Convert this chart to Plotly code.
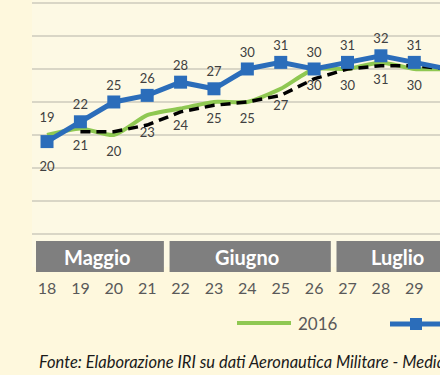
import plotly.graph_objects as go

weeks = [18, 19, 20, 21, 22, 23, 24, 25, 26, 27, 28, 29, 30]
temp_2017 = [19, 22, 25, 26, 28, 27, 30, 31, 30, 31, 32, 31, 30]
temp_2016 = [20, 21, 20, 23, 24, 25, 25, 27, 30, 30, 31, 30, 30]
media_mobile_2016 = [None, 20.5, 20.5, 21.5, 23.5, 24.5, 25, 26, 28.5, 30, 30.5, 30.5, 30]
months = ["Maggio", "Giugno", "Luglio"]
month_first_week = [18, 22, 27]
month_last_week = [21, 26, 30]
footer_text = "Fonte: Elaborazione IRI su dati Aeronautica Militare - Media"

FONT = "Lato"
BLUE = "#2B6DBA"
GREEN = "#8FC852"
LABEL = "#404040"
last_visible_week = 29

labels_2016 = [str(v) if w <= last_visible_week else "" for w, v in zip(weeks, temp_2016)]
labels_2017 = [str(v) if w <= last_visible_week else "" for w, v in zip(weeks, temp_2017)]
# label offsets (invisible marker sizes) - first labels pushed further like the original
offs_2016 = [40] + [17] * (len(weeks) - 1)
offs_2017 = [24] + [13] * (len(weeks) - 1)

fig = go.Figure()

fig.add_trace(go.Scatter(
    x=weeks, y=temp_2016, name="2016", mode="lines",
    line=dict(color=GREEN, width=4, shape="spline", smoothing=0.6),
    showlegend=False,
))
fig.add_trace(go.Scatter(
    x=weeks, y=temp_2016, name="2016 etichette", mode="markers+text",
    marker=dict(size=offs_2016, color="rgba(0,0,0,0)", line=dict(width=0, color="rgba(0,0,0,0)")),
    text=labels_2016, textposition="bottom center",
    textfont=dict(family=FONT, size=13, color=LABEL),
    showlegend=False, hoverinfo="skip",
))
fig.add_trace(go.Scatter(
    x=weeks, y=media_mobile_2016, name="Media mobile (2016)", mode="lines",
    line=dict(color="#000000", width=3.5, dash="10px,6px"),
    showlegend=False,
))
fig.add_trace(go.Scatter(
    x=weeks, y=temp_2017, name="2017", mode="lines+markers",
    line=dict(color=BLUE, width=5),
    marker=dict(symbol="square", size=13, color=BLUE),
    showlegend=False,
))
fig.add_trace(go.Scatter(
    x=weeks, y=temp_2017, name="2017 etichette", mode="markers+text",
    marker=dict(size=offs_2017, color="rgba(0,0,0,0)", line=dict(width=0, color="rgba(0,0,0,0)")),
    text=labels_2017, textposition="top center",
    textfont=dict(family=FONT, size=13, color=LABEL),
    showlegend=False, hoverinfo="skip",
))

W, H = 440, 375
L, R, T, B = 32, 0, 0, 108
PW, PH = W - L - R, H - T - B


def px_x(px):
    return (px - L) / PW


def px_y(py):
    return (T + PH - py) / PH


shapes = []
annotations = []
for name, a, b in zip(months, month_first_week, month_last_week):
    shapes.append(dict(type="rect", xref="x", yref="paper",
                       x0=a - 0.5 + 0.17, x1=b + 0.5, y0=px_y(272), y1=px_y(241),
                       fillcolor="#7F7F7F", line=dict(width=0), layer="above"))
    annotations.append(dict(text=name, xref="x", yref="paper", x=(a + b) / 2,
                            y=px_y(256.5), showarrow=False, xanchor="center", yanchor="middle",
                            font=dict(family=FONT, size=20, color="#FFFFFF", weight="bold")))

# legend (manual, Excel-like long line symbols)
shapes.append(dict(type="line", xref="paper", yref="paper", x0=px_x(237), x1=px_x(291),
                   y0=px_y(323), y1=px_y(323), line=dict(color=GREEN, width=4)))
annotations.append(dict(text="2016", xref="paper", yref="paper", x=px_x(296), y=px_y(323),
                        showarrow=False, xanchor="left", yanchor="middle",
                        font=dict(family=FONT, size=17, color="#595959")))
shapes.append(dict(type="line", xref="paper", yref="paper", x0=px_x(390), x1=px_x(446),
                   y0=px_y(324), y1=px_y(324), line=dict(color=BLUE, width=5)))
shapes.append(dict(type="rect", xref="paper", yref="paper", x0=px_x(410), x1=px_x(422),
                   y0=px_y(330), y1=px_y(318), fillcolor=BLUE, line=dict(width=0)))

annotations.append(dict(text="<i>" + footer_text + "</i>", xref="paper", yref="paper",
                        x=px_x(37), y=px_y(362), showarrow=False, xanchor="left", yanchor="middle",
                        font=dict(family=FONT, size=16.5, color="#1A1A1A")))

fig.update_layout(
    width=W, height=H,
    margin=dict(l=L, r=R, t=T, b=B, pad=0),
    paper_bgcolor="#FEF8DD",
    plot_bgcolor="#FDF9E4",
    showlegend=False,
    shapes=shapes,
    annotations=annotations,
    font=dict(family=FONT),
)
fig.update_xaxes(
    range=[17.55, 29.77], tickmode="array", tickvals=weeks,
    ticktext=[str(w) for w in weeks], showgrid=False, zeroline=False,
    showline=False, ticks="outside", ticklen=7, tickcolor="rgba(0,0,0,0)",
    tickfont=dict(family=FONT, size=16, color="#595959"),
)
fig.update_yaxes(
    range=[0, 40.45], tickvals=[0, 5, 10, 15, 20, 25, 30, 35, 40],
    showticklabels=False, showgrid=True, gridcolor="#D9D6C6", gridwidth=2,
    zeroline=False, showline=False,
)

fig.write_html("out.html",
               config={"displayModeBar": False},
               post_script="document.body.style.margin='0';document.body.style.background='#FEF8DD';")
